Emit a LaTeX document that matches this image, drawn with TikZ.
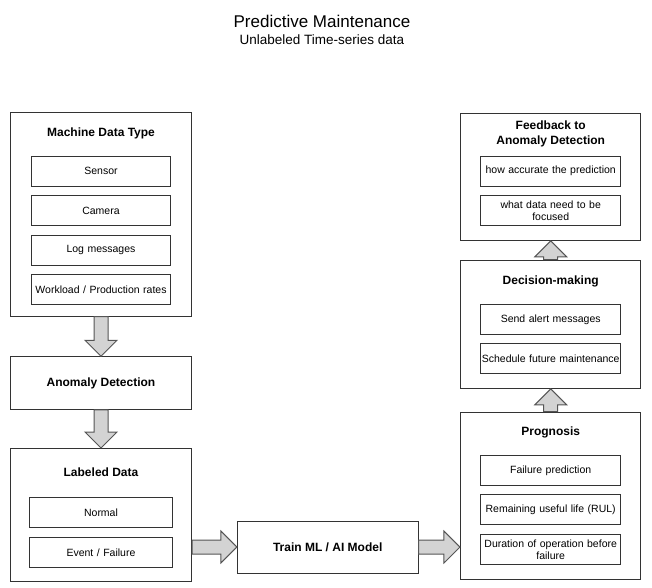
\documentclass[tikz,border=0pt]{standalone}
\usepackage{fontspec}
\setmainfont{Liberation Sans}
\usetikzlibrary{calc}
\definecolor{boxline}{RGB}{51,51,51}
\definecolor{arrowfill}{RGB}{211,211,211}
\definecolor{arrowline}{RGB}{85,85,85}
\tikzset{every picture/.style={line width=1pt}}
\tikzset{
  outerbox/.style={draw=boxline, minimum width=181pt, inner sep=0pt},
  itembox/.style={draw=boxline, minimum height=30pt, inner sep=0.5pt, text width=#1, align=center,
    font=\fontsize{10.5}{12}\selectfont},
  itembox/.default=138pt,
  boxtitle/.style={font=\fontsize{12}{15}\selectfont\bfseries, align=center},
  flowarrow/.style={draw=arrowline, fill=arrowfill, line join=miter},
}
% block arrow from one node anchor to another
\newcommand{\blockarrow}[2]{%
  \coordinate (hb) at ($(#2)!16pt!(#1)$);
  \draw[flowarrow] ($(#1)!7pt!90:(#2)$) -- ($(hb)!7pt!90:(#2)$) -- ($(hb)!16pt!90:(#2)$) -- (#2)
    -- ($(hb)!16pt!-90:(#2)$) -- ($(hb)!7pt!-90:(#2)$) -- ($(#1)!7pt!-90:(#2)$) -- cycle;
}

\begin{document}
\begin{tikzpicture}[x=1pt,y=-1pt]
\useasboundingbox (0,0) rectangle (652,587);
\node (title) at (322,21) {\fontsize{17}{20}\selectfont Predictive Maintenance};
\node (subtitle) at (322,40) {\fontsize{13.5}{16}\selectfont Unlabeled Time-series data};
%
% left column
\node[outerbox, minimum height=203.5pt] (mdt) at (101,214.3) {};
\node[boxtitle] (mdttitle) at (101,133) {Machine Data Type};
\node[itembox] (sensor) at (101,171.3) {Sensor};
\node[itembox] (camera) at (101,210.8) {Camera};
\node[itembox] (logmsg) at (101,250.3) {Log messages};
\node[itembox] (workload) at (101,289.3) {Workload / Production rates};
%
\node[outerbox, minimum height=52.5pt] (anom) at (101,383) {};
\node[boxtitle] (anomtitle) at (101,383) {Anomaly Detection};
%
\node[outerbox, minimum height=133pt] (lab) at (101,515) {};
\node[boxtitle] (labtitle) at (101,472.5) {Labeled Data};
\node[itembox=142pt] (normal) at (101,512.7) {Normal};
\node[itembox=142pt] (event) at (101,552.7) {Event / Failure};
%
% middle
\node[outerbox, minimum width=180.7pt, minimum height=52pt] (train) at (327.7,547) {};
\node[boxtitle] (traintitle) at (327.7,547) {Train ML / AI Model};
%
% right column
\node[outerbox, minimum width=180.5pt, minimum height=167.3pt] (prog) at (550.7,495.7) {};
\node[boxtitle] (progtitle) at (550.7,432.7) {Prognosis};
\node[itembox=139pt] (failpred) at (550.7,470.3) {Failure prediction};
\node[itembox=139pt] (rul) at (550.7,509.5) {Remaining useful life (RUL)};
\node[itembox=139pt] (duration) at (550.7,549.3) {Duration of operation before\\failure};
%
\node[outerbox, minimum width=180.5pt, minimum height=128.3pt] (dec) at (550.7,324.2) {};
\node[boxtitle] (dectitle) at (550.7,281.7) {Decision-making};
\node[itembox=139pt] (alert) at (550.7,319.3) {Send alert messages};
\node[itembox=139pt] (schedule) at (550.7,358.3) {Schedule future maintenance};
%
\node[outerbox, minimum width=180.5pt, minimum height=127.3pt] (fb) at (550.7,176.7) {};
\node[boxtitle] (fbtitle) at (550.7,133.5) {Feedback to\\Anomaly Detection};
\node[itembox=139pt] (accuracy) at (550.7,171) {how accurate the prediction};
\node[itembox=139pt] (focus) at (550.7,210.5) {what data need to be\\focused};
%
% arrows
\blockarrow{mdt.south}{anom.north}
\blockarrow{anom.south}{lab.north}
\blockarrow{lab.east |- train.west}{train.west}
\blockarrow{train.east}{prog.west |- train.east}
\blockarrow{prog.north}{dec.south}
\blockarrow{dec.north}{fb.south}
\end{tikzpicture}
\end{document}
